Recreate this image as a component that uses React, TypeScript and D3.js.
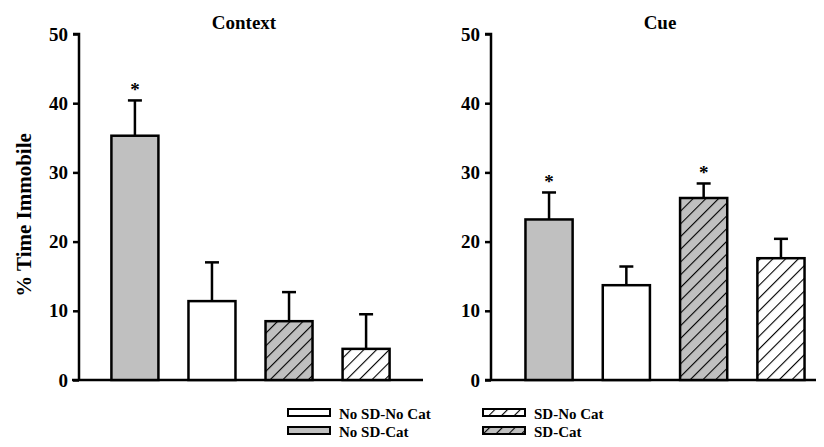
import React, { useRef, useEffect } from "react";
import * as d3 from "d3";

const groups = ["No SD-Cat", "No SD-No Cat", "SD-Cat", "SD-No Cat"];
const contextMeans = [35.3, 11.4, 8.5, 4.5];
const contextErrors = [5.1, 5.6, 4.2, 5.0];
const contextStars = [true, false, false, false];
const cueMeans = [23.2, 13.7, 26.3, 17.6];
const cueErrors = [3.9, 2.7, 2.1, 2.8];
const cueStars = [true, false, true, false];
const yTicks = [0, 10, 20, 30, 40, 50];
const legendOrder = ["No SD-No Cat", "SD-No Cat", "No SD-Cat", "SD-Cat"];

const fillFor = (g: string) => {
    if (g === "No SD-Cat") return "#c0c0c0";
    if (g === "No SD-No Cat") return "#ffffff";
    if (g === "SD-Cat") return "url(#hatchGray)";
    return "url(#hatchWhite)";
};

export default function App() {
    const ref = useRef<SVGSVGElement>(null);

    useEffect(() => {
        const width = 824, height = 447;
        const svg = d3.select(ref.current).attr("width", width).attr("height", height)
            .attr("font-family", "'Liberation Serif', 'DejaVu Serif', 'Times New Roman', serif")
            .attr("font-weight", "bold");
        svg.selectAll("*").remove();

        // hatch patterns
        const defs = svg.append("defs");
        [["hatchGray", "#c0c0c0"], ["hatchWhite", "#ffffff"]].forEach(([id, bg]) => {
            const p = defs.append("pattern")
                .attr("id", id)
                .attr("patternUnits", "userSpaceOnUse")
                .attr("width", 9)
                .attr("height", 9)
                .attr("patternTransform", "rotate(45)");
            p.append("rect").attr("width", 9).attr("height", 9).attr("fill", bg);
            p.append("line").attr("x1", 0).attr("y1", 0).attr("x2", 0).attr("y2", 9)
                .attr("stroke", "#000").attr("stroke-width", 2.2);
        });

        const y = d3.scaleLinear().domain([0, 50]).range([380, 34]);

        const panels = [
            { title: "Context", titleX: 244, means: contextMeans, errs: contextErrors, stars: contextStars, axisX: 79, x0: 72, x1: 423, bandStart: 96, bandEnd: 405 },
            { title: "Cue", titleX: 660, means: cueMeans, errs: cueErrors, stars: cueStars, axisX: 491, x0: 485, x1: 821, bandStart: 510, bandEnd: 820 },
        ];

        panels.forEach((p) => {
            const g = svg.append("g");
            const x = d3.scaleBand().domain(groups).range([p.bandStart, p.bandEnd]).paddingInner(0.39).paddingOuter(0.2);

            // x baseline
            g.append("line").attr("x1", p.x0).attr("x2", p.x1).attr("y1", y(0)).attr("y2", y(0))
                .attr("stroke", "#000").attr("stroke-width", 2.5);

            // y axis
            const axis = g.append("g").attr("transform", `translate(${p.axisX},0)`)
                .call(d3.axisLeft(y).tickValues(yTicks).tickSize(6).tickPadding(5));
            axis.attr("font-family", null).attr("font-size", 19);
            axis.select(".domain").attr("stroke-width", 2.5).attr("d", `M-6,${y(50)}H0V${y(0)}`);
            axis.selectAll(".tick line").attr("stroke-width", 2.5);
            axis.selectAll(".tick text").attr("fill", "#000");

            // title
            g.append("text").attr("x", p.titleX).attr("y", 29)
                .attr("text-anchor", "middle").attr("font-size", 19).text(p.title);

            groups.forEach((grp, i) => {
                const bx = x(grp)!;
                const bw = x.bandwidth();
                const cx = bx + bw / 2;
                const top = p.means[i] + p.errs[i];
                g.append("line").attr("x1", cx).attr("x2", cx).attr("y1", y(p.means[i])).attr("y2", y(top))
                    .attr("stroke", "#000").attr("stroke-width", 2.5);
                g.append("line").attr("x1", cx - 7).attr("x2", cx + 7).attr("y1", y(top)).attr("y2", y(top))
                    .attr("stroke", "#000").attr("stroke-width", 2.5);
                g.append("rect").attr("x", bx).attr("y", y(p.means[i])).attr("width", bw)
                    .attr("height", y(0) - y(p.means[i]))
                    .attr("fill", fillFor(grp)).attr("stroke", "#000").attr("stroke-width", 2.5);
                if (p.stars[i]) {
                    g.append("text").attr("x", cx).attr("y", y(top) - 4).attr("text-anchor", "middle")
                        .attr("font-size", 19).text("*");
                }
            });
        });

        // y label
        svg.append("text").attr("transform", "translate(31,215) rotate(-90)").attr("text-anchor", "middle")
            .attr("font-size", 21).text("% Time Immobile");

        // legend
        const lg = svg.append("g");
        legendOrder.forEach((name, i) => {
            const col = i % 2, row = Math.floor(i / 2);
            const lx = col === 0 ? 288 : 483;
            const ly = row === 0 ? 409 : 427;
            lg.append("rect").attr("x", lx).attr("y", ly).attr("width", 42).attr("height", 7)
                .attr("fill", fillFor(name)).attr("stroke", "#000").attr("stroke-width", 2);
            lg.append("text").attr("x", lx + 51).attr("y", ly + 10)
                .attr("font-size", 15).text(name);
        });
    }, []);

    return (
        <div style={{ margin: -8 }}>
            <svg ref={ref}></svg>
        </div>
    );
}
